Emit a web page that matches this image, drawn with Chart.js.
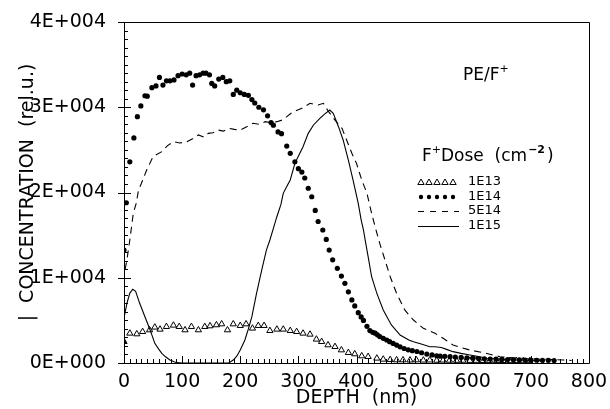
<!DOCTYPE html>
<html>
<head>
<meta charset="utf-8">
<script src="https://cdn.jsdelivr.net/npm/chart.js@4.4.1/dist/chart.umd.min.js"></script>
<style>
  body { margin: 0; background: #fff; }
</style>
</head>
<body>
<canvas id="profileChart" width="610" height="409"></canvas>
<script>
// depth profiles of F in PE (depth nm / concentration rel.u.)
const doseLabels = ['1E13', '1E14', '5E14', '1E15'];

const depth1E13 = [0, 10, 22, 32, 44, 53, 62, 73, 85, 95, 105, 116, 128, 139, 148, 159, 168, 178, 188, 200,
  210, 221, 231, 241, 251, 263, 274, 286, 297, 308, 320, 331, 340, 351, 363, 374, 386, 397, 409, 420,
  435, 446, 458, 469, 480, 492, 503, 515, 526, 538, 549, 560, 572, 583, 595, 606, 618, 629, 641, 652,
  664, 675, 687, 698];
const conc1E13 = [2500, 3480, 3400, 3670, 3870, 4190, 3950, 4260, 4420, 4260, 3870, 4260, 3870, 4260, 4340, 4460, 4570, 3870, 4570, 4380,
  4570, 4070, 4380, 4380, 3790, 3950, 3950, 3790, 3670, 3480, 3360, 2780, 2500, 2110, 1910, 1520, 1210, 1060, 820, 740,
  550, 430, 380, 350, 350, 330, 350, 320, 330, 300, 320, 300, 290, 300, 280, 290, 270, 280, 260, 270,
  250, 260, 240, 250];

const depth1E14 = [0, 4, 10, 17, 23, 29, 36, 40, 48, 55, 61, 67, 73, 79, 86, 93, 100, 107, 113, 118,
  124, 130, 136, 141, 147, 151, 156, 163, 170, 176, 182, 188, 194, 200, 207, 214, 220, 225, 232, 240,
  247, 253, 257, 265, 271, 280, 286, 294, 300, 306, 311, 317, 323, 329, 334, 342, 348, 353, 359, 367,
  374, 380, 386, 392, 397, 403, 408, 412, 418, 423, 428, 432, 436, 440, 446, 452, 457, 463, 469, 475,
  482, 489, 496, 504, 512, 521, 530, 538, 544, 552, 561, 570, 580, 590, 600, 610, 620, 630, 640, 650,
  660, 670, 680, 690, 700, 710, 720, 730, 740];
const conc1E14 = [13250, 18800, 23600, 26400, 28900, 30150, 31350, 31300, 32300, 32500, 33500, 32600, 33100, 33100, 33200, 33700, 33900, 33800, 34000, 32600,
  33700, 33800, 34000, 34000, 33800, 32800, 32500, 33300, 33500, 33000, 33100, 31500, 32000, 31700, 31500, 31400, 30900, 30500, 30000, 29700,
  29000, 28200, 27900, 27100, 26900, 25450, 24600, 23600, 22800, 22400, 21700, 20500, 19500, 17900, 16600, 15600, 14500, 13250, 12100, 11100,
  10200, 9350, 8350, 7400, 6700, 5900, 5400, 5000, 4300, 3800, 3600, 3500, 3300, 3100, 2900, 2700, 2500, 2300, 2100, 1900,
  1700, 1550, 1450, 1350, 1200, 1050, 950, 850, 800, 780, 740, 700, 650, 600, 580, 520, 500, 460, 450, 420,
  400, 380, 370, 350, 330, 320, 300, 300, 280];

const depth5E14 = [2, 5, 10, 16, 21, 25, 30, 39, 50, 65, 75, 85, 96, 108, 118, 128, 137, 145, 153, 162,
  171, 180, 190, 200, 211, 222, 233, 243, 253, 263, 272, 280, 291, 306, 320, 334, 343, 352, 363, 375,
  383, 392, 400, 409, 418, 426, 432, 440, 449, 458, 469, 483, 498, 515, 535, 549, 566, 580, 595, 618,
  647, 681, 721, 756, 770];
const conc5E14 = [11000, 12080, 14430, 17560, 18730, 20290, 21080, 22640, 24200, 24790, 25500, 25960, 25800, 25960, 26300, 26750, 26500, 26940, 27000, 27330,
  27200, 27530, 27400, 27330, 27700, 28120, 28000, 28310, 28200, 28310, 28500, 28900, 29480, 29870, 30460, 30260, 30460, 29480, 28500, 27530,
  26160, 24600, 23420, 21470, 19900, 17560, 15990, 14040, 12080, 10120, 8170, 6220, 5040, 4070, 3480, 2900, 2110, 1800, 1520, 1210,
  740, 550, 430, 350, 300];

const depth1E15 = [0, 5, 10, 15, 20, 27, 36, 45, 53, 60, 65, 72, 79, 86, 91, 100, 120, 140, 160, 180,
  188, 194, 200, 208, 214, 220, 228, 237, 245, 251, 257, 263, 270, 274, 280, 286, 294, 301, 308, 317,
  326, 337, 345, 354, 360, 369, 377, 386, 394, 403, 408, 412, 416, 420, 426, 435, 446, 460, 475, 490,
  498, 510, 526, 535, 546, 555, 566, 580, 595, 610, 624, 640, 660, 680, 700, 720];
const conc1E15 = [5280, 7000, 8200, 8650, 8400, 7000, 5430, 3870, 2310, 1600, 1140, 700, 350, 150, 40, 0, 0, 0, 0, 0,
  350, 800, 1520, 2700, 4000, 5430, 8170, 10910, 13250, 14430, 15800, 17160, 18600, 19900, 20700, 21470, 23420, 24400, 25370, 26940,
  27920, 28700, 29200, 29680, 29290, 27720, 26160, 23810, 21470, 18730, 16800, 15600, 14000, 12470, 10120, 8170, 6220, 4460, 3280, 2700,
  2500, 2250, 1910, 1900, 1810, 1600, 1330, 1130, 940, 750, 550, 500, 400, 350, 300, 250];

const xTicks = [0, 100, 200, 300, 400, 500, 600, 700, 800];
const yTicks = [0, 10000, 20000, 30000, 40000];

const FONT = 'DejaVu Sans';

function pts(xs, ys) {
  return xs.map((x, i) => ({ x: x, y: ys[i] }));
}

// inside ticks, frame, annotation text and the hand drawn legend
const decorPlugin = {
  id: 'decor',
  afterDraw(chart) {
    const { ctx, chartArea: a, scales: { x, y } } = chart;
    ctx.save();
    ctx.strokeStyle = '#000';
    ctx.lineWidth = 1;
    ctx.beginPath();
    ctx.rect(a.left + 0.5, a.top + 0.5, a.right - a.left, a.bottom - a.top);
    for (let v = 0; v <= 800; v += 10) {
      const px = Math.round(x.getPixelForValue(v)) + 0.5;
      const len = v % 100 === 0 ? 7 : 4;
      ctx.moveTo(px, a.bottom);
      ctx.lineTo(px, a.bottom - len);
    }
    for (let v = 0; v <= 40000; v += 1000) {
      const py = Math.round(y.getPixelForValue(v)) + 0.5;
      const major = v % 10000 === 0;
      ctx.moveTo(a.left - (major ? 6 : 0), py);
      ctx.lineTo(a.left + (major ? 7 : 4), py);
    }
    ctx.stroke();

    ctx.fillStyle = '#000';
    ctx.textBaseline = 'alphabetic';
    ctx.textAlign = 'left';

    // PE/F+
    let tx = a.left + 339, ty = a.top + 58;
    ctx.font = '17px "' + FONT + '"';
    ctx.fillText('PE/F', tx, ty);
    tx += ctx.measureText('PE/F').width;
    ctx.font = '11px "' + FONT + '"';
    ctx.fillText('+', tx, ty - 8);

    // F+Dose (cm-2)
    tx = a.left + 298; ty = a.top + 139;
    ctx.font = '17px "' + FONT + '"';
    ctx.fillText('F', tx, ty);
    tx += ctx.measureText('F').width;
    ctx.font = '11px "' + FONT + '"';
    ctx.fillText('+', tx, ty - 8);
    tx += ctx.measureText('+').width;
    ctx.font = '17px "' + FONT + '"';
    ctx.fillText('Dose  (cm', tx, ty);
    tx += ctx.measureText('Dose  (cm').width;
    ctx.font = 'bold 11px "' + FONT + '"';
    ctx.fillText('\u22122', tx + 1, ty - 8);
    tx += ctx.measureText('\u22122').width + 3;
    ctx.font = '17px "' + FONT + '"';
    ctx.fillText(')', tx, ty);

    // legend rows
    const lx0 = a.left + 294, lx1 = a.left + 331, textX = a.left + 344;
    const rows = [a.top + 160, a.top + 175, a.top + 189, a.top + 204];
    ctx.font = '13px "' + FONT + '"';
    ctx.textBaseline = 'middle';
    doseLabels.forEach((lab, i) => {
      const ry = rows[i];
      ctx.beginPath();
      if (i === 0) {
        for (let k = 0; k < 5; k++) {
          const cx = lx0 + 3 + k * 8;
          ctx.moveTo(cx, ry - 3);
          ctx.lineTo(cx + 3.2, ry + 2.5);
          ctx.lineTo(cx - 3.2, ry + 2.5);
          ctx.closePath();
        }
        ctx.stroke();
      } else if (i === 1) {
        for (let k = 0; k < 5; k++) {
          ctx.moveTo(lx0 + 3 + k * 8 + 2.2, ry);
          ctx.arc(lx0 + 3 + k * 8, ry, 2.2, 0, Math.PI * 2);
        }
        ctx.fill();
      } else {
        ctx.setLineDash(i === 2 ? [6, 6] : []);
        ctx.moveTo(lx0, ry + 0.5);
        ctx.lineTo(lx1 + 4, ry + 0.5);
        ctx.stroke();
        ctx.setLineDash([]);
      }
      ctx.fillText(lab, textX, ry);
    });
    ctx.restore();
  }
};

const ctx = document.getElementById('profileChart').getContext('2d');
const profileChart = new Chart(ctx, {
  type: 'scatter',
  data: {
    datasets: [
      {
        label: doseLabels[0],
        data: pts(depth1E13, conc1E13),
        pointStyle: 'triangle',
        pointRadius: 3.6,
        borderWidth: 1,
        borderColor: '#000',
        backgroundColor: conc1E13.map((v, i) => i === 0 ? '#000' : 'rgba(0,0,0,0)')
      },
      {
        label: doseLabels[1],
        data: pts(depth1E14, conc1E14),
        pointStyle: 'circle',
        pointRadius: 2.6,
        borderWidth: 0,
        backgroundColor: '#000'
      },
      {
        label: doseLabels[2],
        data: pts(depth5E14, conc5E14),
        showLine: true,
        pointRadius: 0,
        borderColor: '#000',
        borderWidth: 1.1,
        borderDash: [7, 5]
      },
      {
        label: doseLabels[3],
        data: pts(depth1E15, conc1E15),
        showLine: true,
        pointRadius: 0,
        borderColor: '#000',
        borderWidth: 1.1
      }
    ]
  },
  options: {
    responsive: false,
    animation: false,
    layout: { padding: { top: 22, right: 21, left: 0, bottom: 0 } },
    plugins: {
      legend: { display: false },
      tooltip: { enabled: false }
    },
    scales: {
      x: {
        type: 'linear',
        min: 0,
        max: 800,
        afterFit: (s) => { s.height = 46; },
        afterBuildTicks: (s) => { s.ticks = xTicks.map(v => ({ value: v })); },
        grid: { display: false },
        border: { display: false },
        ticks: { color: '#000', padding: 0, maxRotation: 0, font: { family: FONT, size: 19 } },
        title: { display: true, text: 'DEPTH  (nm)', color: '#000', padding: 0, font: { family: FONT, size: 19 } }
      },
      y: {
        type: 'linear',
        min: 0,
        max: 40000,
        afterFit: (s) => { s.width = 124; },
        afterBuildTicks: (s) => { s.ticks = yTicks.map(v => ({ value: v })); },
        grid: { display: false },
        border: { display: false },
        ticks: {
          color: '#000',
          padding: 10,
          font: { family: FONT, size: 19 },
          callback: (v) => v === 0 ? '0E+000' : (v / 10000) + 'E+004'
        },
        title: { display: true, text: '|  CONCENTRATION  (rel.u.)', color: '#000', padding: { top: 17, bottom: 0 }, font: { family: FONT, size: 19 } }
      }
    }
  },
  plugins: [decorPlugin]
});
</script>
</body>
</html>
